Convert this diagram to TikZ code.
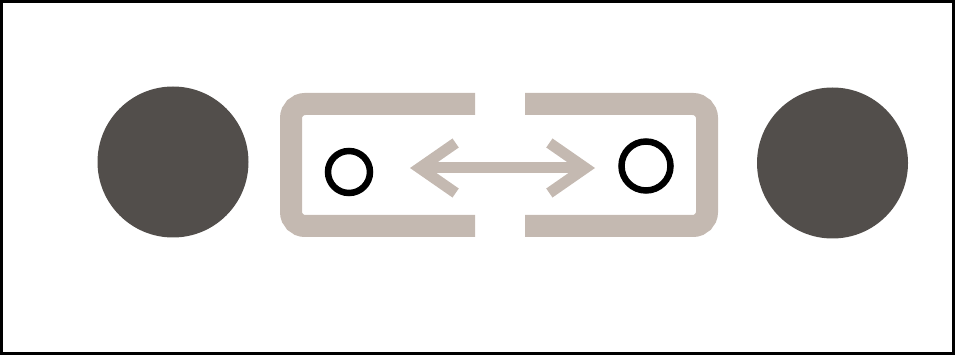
\documentclass[tikz,border=0pt]{standalone}
\definecolor{ballgray}{RGB}{82, 78, 75}
\definecolor{taupe}{RGB}{196, 185, 177}
\usepackage{tikz}
\usetikzlibrary{
  arrows.meta,
  positioning
}

\begin{document}
\begin{tikzpicture}[
  x=1pt, y=-1pt,
  ball/.style={circle, fill=ballgray, minimum size=151pt, inner sep=0pt},
  port/.style={circle, draw=black, line width=6.5pt, inner sep=0pt},
  bracket/.style={draw=taupe, line width=22pt, rounded corners=14pt},
  twoway/.style={draw=taupe, line width=11pt,
                 {Straight Barb[length=36pt, width=50pt]}-{Straight Barb[length=36pt, width=50pt]}}
]

\useasboundingbox (0,0) rectangle (955,355);
\draw[line width=3pt] (1.5,1.5) rectangle (953.5,353.5);

\node[ball] (lball) at (173, 162) {};
\node[ball] (rball) at (832.5, 163) {};

\draw[bracket] (475,104) -- (291,104) -- (291,226) -- (475,226);
\draw[bracket] (525,104) -- (707,104) -- (707,226) -- (525,226);

\node[port, minimum size=42pt] (lport) at (349, 172) {};
\node[port, minimum size=49pt] (rport) at (646, 166) {};

\coordinate (lend) at (410, 168);
\coordinate (rend) at (595, 168);
\draw[twoway] (lend) -- (rend);

\end{tikzpicture}
\end{document}
